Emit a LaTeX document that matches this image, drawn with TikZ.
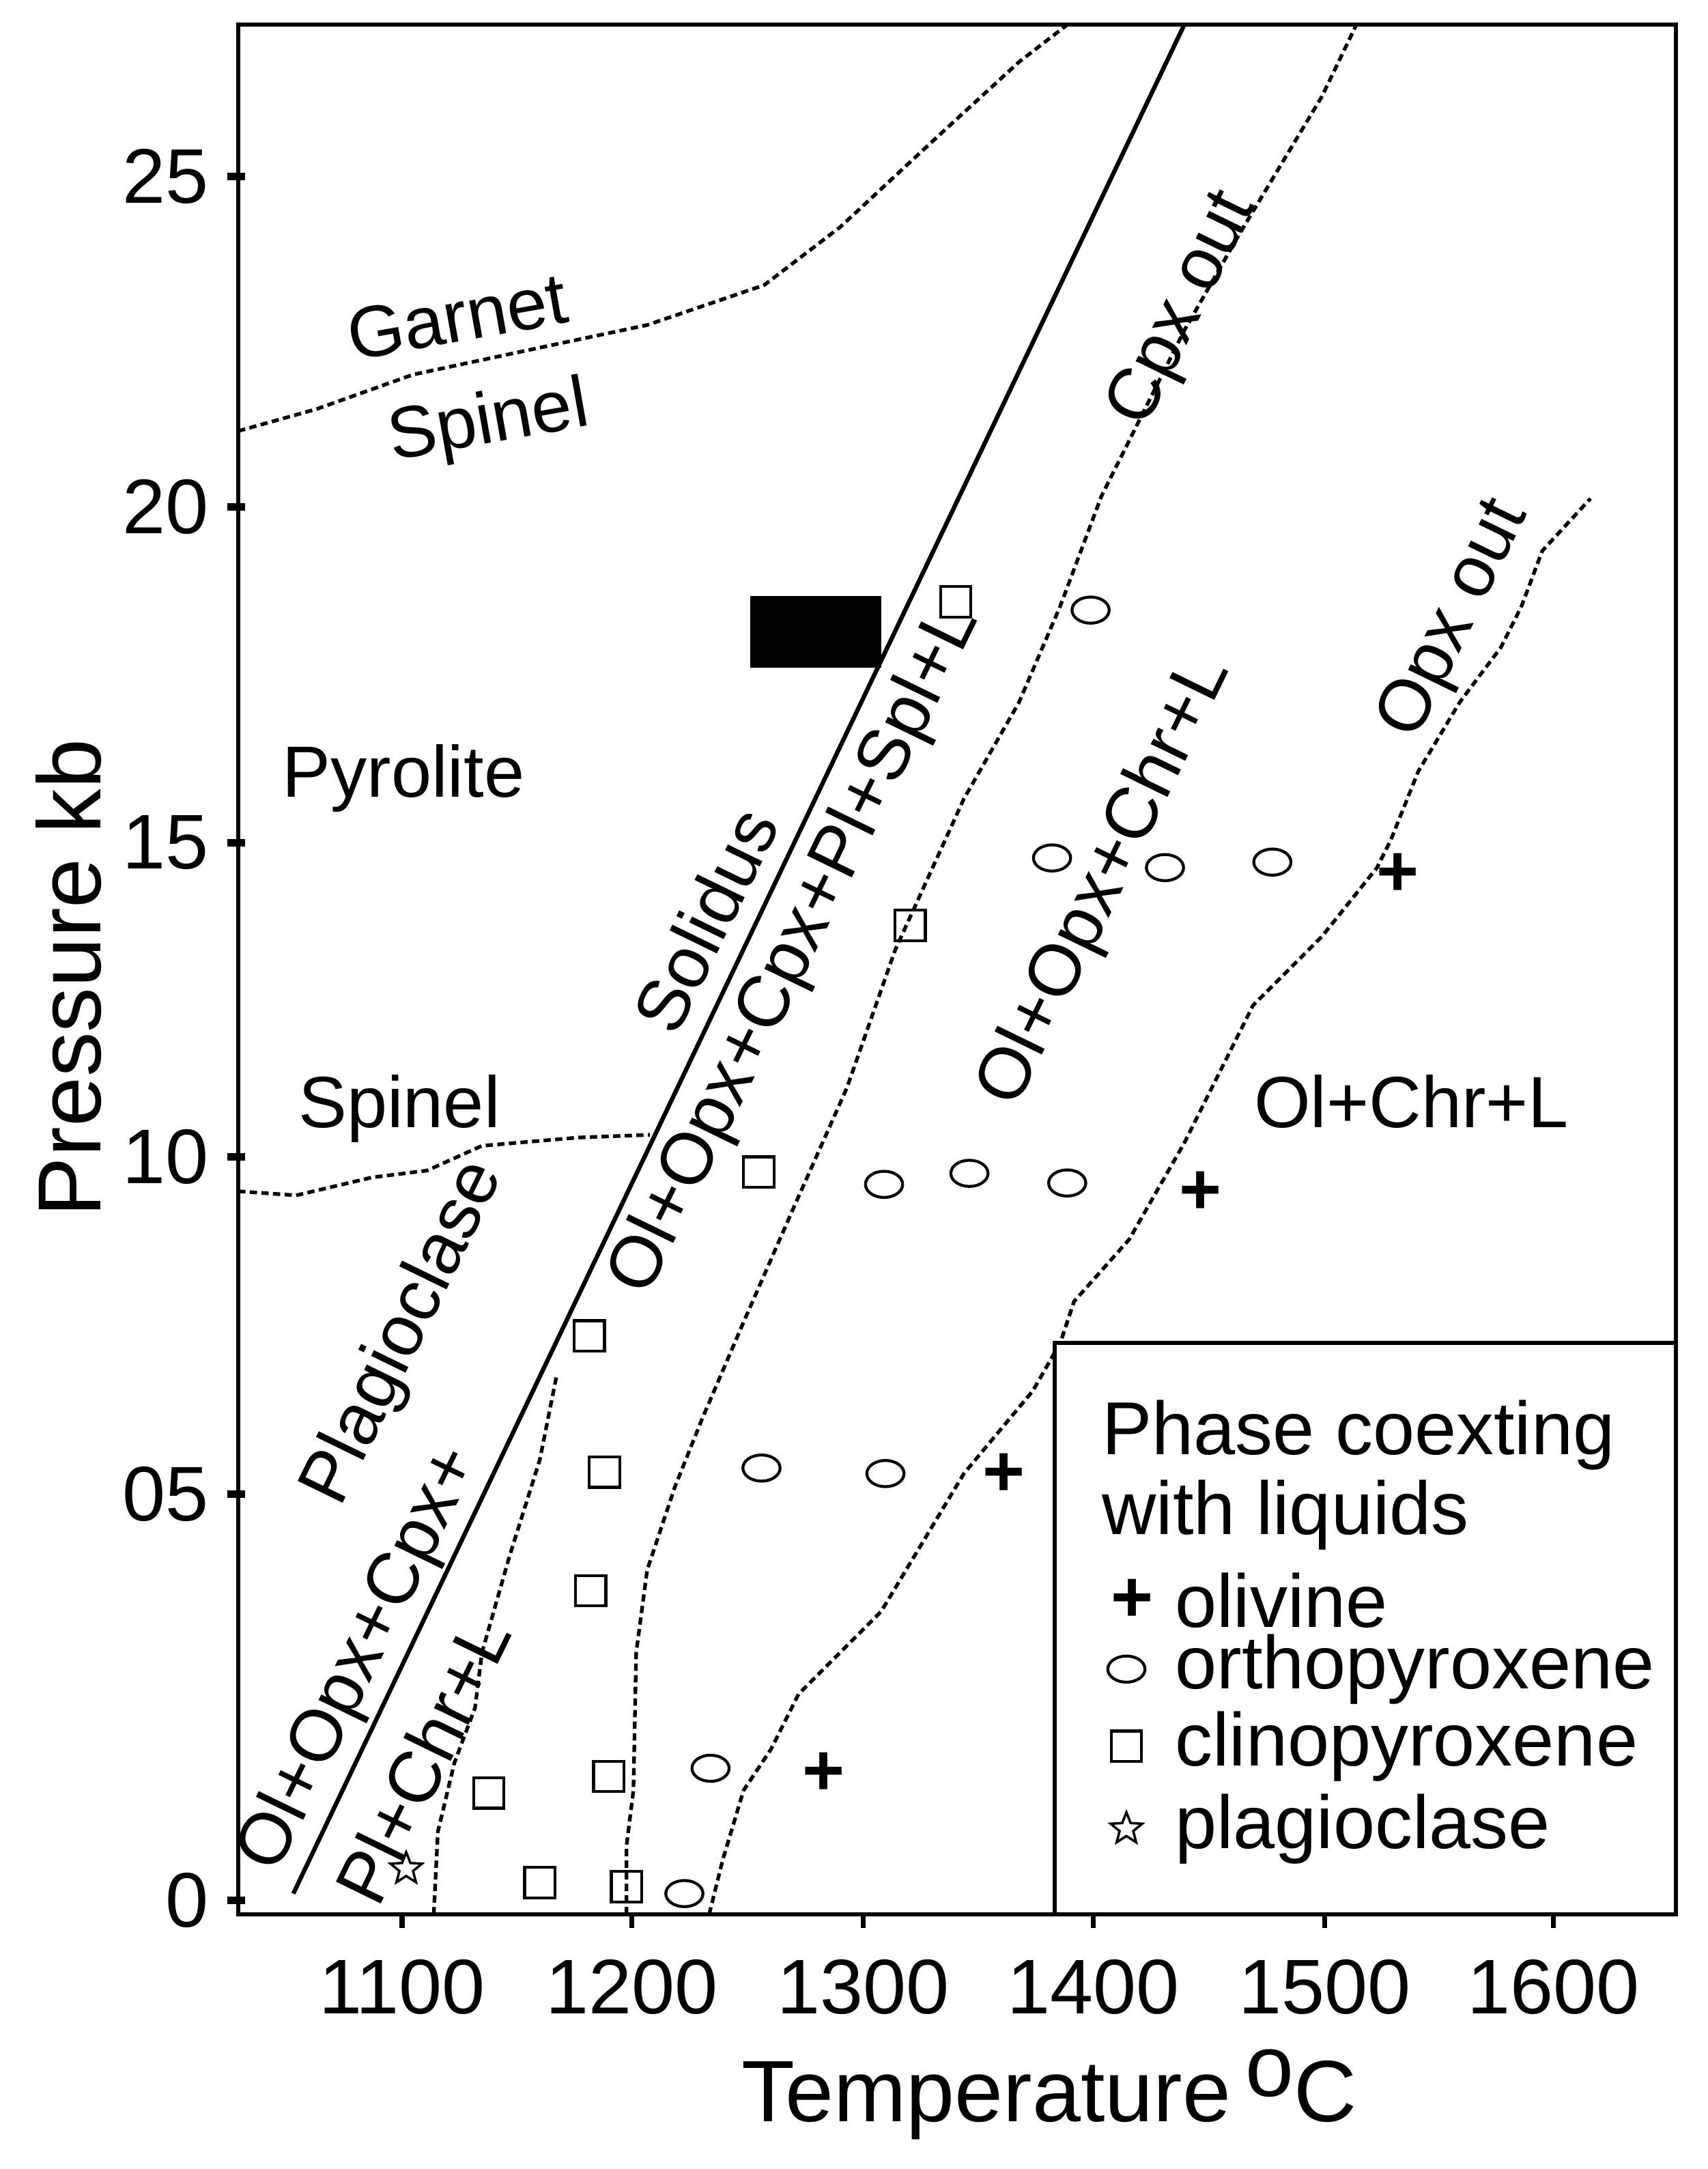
\documentclass[tikz,border=0pt]{standalone}
\usepackage{fontspec}
\setmainfont{Liberation Sans}
\usetikzlibrary{shapes.geometric}
\begin{document}
\begin{tikzpicture}[x=0.02cm,y=-0.02cm,
  frame/.style={line width=1.8pt},
  bnd/.style={line width=1.5pt,dash pattern=on 3pt off 1.8pt},
  lbl/.style={font=\fontsize{30}{34}\selectfont,inner sep=0pt},
  rl/.style={lbl,rotate=64},
  tk/.style={font=\fontsize{32}{36}\selectfont,inner sep=0pt},
  lg/.style={font=\fontsize{31}{34}\selectfont,inner sep=0pt,anchor=west},
  sq/.style={draw,line width=1.2pt,minimum size=22*0.02cm,inner sep=0pt},
  el/.style={draw,ellipse,line width=1.2pt,minimum width=27*0.02cm,minimum height=19*0.02cm,inner sep=0pt},
  pl/.style={font=\fontsize{30}{30}\selectfont\bfseries,inner sep=0pt},
  st/.style={draw,star,star points=5,star point ratio=2.3,line width=1pt,minimum size=24*0.02cm,inner sep=0pt}]
\useasboundingbox (0,0) rectangle (1240,1575);
% frame
\draw[frame] (173,18) rectangle (1217,1390);
% y ticks
\foreach \y/\t in {128/25,368/20,612/15,840/10,1085/05,1380/0}{
  \draw[line width=3pt] (165,\y) -- (178,\y);
  \node[tk,anchor=east] at (152,\y) {\t};}
% x ticks
\foreach \x/\t in {292/1100,459/1200,627/1300,794/1400,962/1500,1128/1600}{
  \draw[line width=2pt] (\x,1390) -- (\x,1400);
  \node[tk] at (\x,1443) {\t};}
\node[tk,font=\fontsize{37}{40}\selectfont,rotate=90] at (50,710) {Pressure kb};
\node[tk,font=\fontsize{36}{40}\selectfont] at (762,1521) {Temperature\,\raisebox{0.55ex}{o}C};
% solidus
\draw[line width=1.8pt] (213,1375) -- (860,18);
% dashed boundaries
\draw[bnd] (173,313) -- (230,297) -- (300,272) -- (380,255) -- (470,236) -- (555,207) -- (610,165) -- (680,100) -- (740,45) -- (775,18);
\draw[bnd] (173,865) -- (215,868) -- (270,855) -- (310,850) -- (350,832) -- (420,826) -- (472,824);
\draw[bnd] (315,1390) -- (318,1330) -- (330,1280) -- (345,1240) -- (350,1200) -- (370,1130) -- (392,1060) -- (404,1000);
\draw[bnd] (455,1390) -- (455,1340) -- (460,1300) -- (462,1200) -- (470,1140) -- (490,1080) -- (510,1030) -- (540,960) -- (575,880) -- (615,790) -- (650,690) -- (700,580) -- (740,510) -- (770,440) -- (800,360) -- (830,300) -- (860,240) -- (900,170) -- (930,120) -- (960,70) -- (985,18);
\draw[bnd] (515,1390) -- (525,1350) -- (540,1300) -- (560,1270) -- (580,1230) -- (610,1200) -- (640,1170) -- (670,1120) -- (700,1070) -- (750,1010) -- (770,975) -- (780,945) -- (820,900) -- (860,830) -- (880,790) -- (910,730) -- (960,680) -- (1000,630) -- (1010,610) -- (1030,560) -- (1060,510) -- (1090,470) -- (1105,440) -- (1120,400) -- (1155,362);
% black rectangle
\fill (545,433) rectangle (640,485);
% labels
\node[lbl,rotate=10] at (332,230) {Garnet};
\node[lbl,rotate=10] at (355,308) {Spinel};
\node[lbl] at (293,565) {Pyrolite};
\node[lbl] at (290,805) {Spinel};
\node[lbl] at (1025,800) {Ol+Chr+L};
\node[rl] at (512,668) {Solidus};
\node[rl] at (578,690) {Ol+Opx+Cpx+Pl+Spl+L};
\node[rl] at (294,968) {Plagioclase};
\node[rl] at (262,1205) {Ol+Opx+Cpx+};
\node[rl] at (307,1278) {Pl+Chr+L};
\node[rl] at (860,225) {Cpx out};
\node[rl] at (803,640) {Ol+Opx+Chr+L};
\node[rl] at (1057,450) {Opx out};
% data symbols
\foreach \p in {(694,437),(661,672),(551,851),(428,970),(439,1069),(429,1155),(442,1290),(355,1302),(392,1367),(455,1370)} \node[sq] at \p {};
\foreach \p in {(792,443),(764,623),(846,630),(924,626),(642,860),(704,852),(775,859),(553,1066),(643,1070),(516,1284),(497,1375)} \node[el] at \p {};
\foreach \p in {(1015,635),(872,866),(729,1071),(598,1288)} \node[pl] at \p {+};
\node[st] at (295,1357) {};
% legend
\draw[frame,fill=white] (766,975) rectangle (1217,1390);
\node[lg] at (800,1042) {Phase coexting};
\node[lg] at (800,1100) {with liquids};
\node[pl] at (822,1162) {+};
\node[el] at (818,1212) {};
\node[sq] at (818,1268) {};
\node[st] at (818,1328) {};
\node[lg] at (853,1162) {olivine};
\node[lg] at (853,1212) {orthopyroxene};
\node[lg] at (853,1268) {clinopyroxene};
\node[lg] at (853,1328) {plagioclase};
\end{tikzpicture}
\end{document}
